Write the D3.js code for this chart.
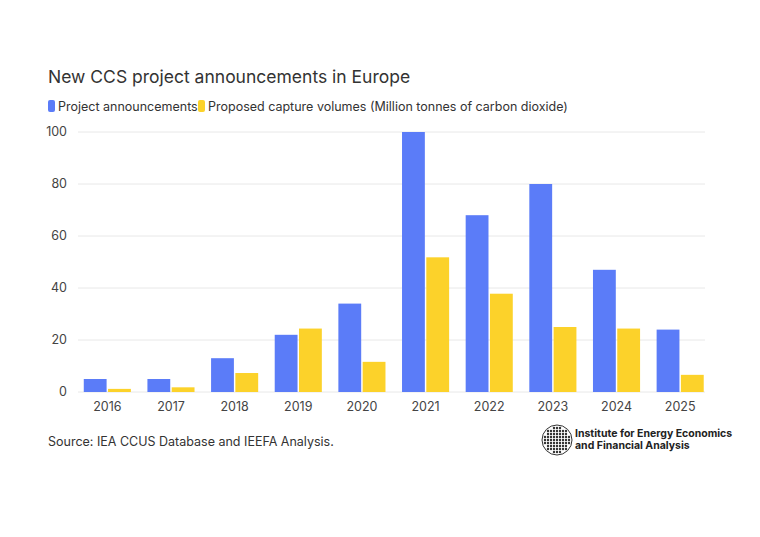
<!DOCTYPE html>
<html><head><meta charset="utf-8">
<script src="https://cdn.jsdelivr.net/npm/d3@7/dist/d3.min.js"></script>
<style>body{margin:0;background:#fff;font-family:Inter,"Noto Sans",sans-serif}</style>
</head><body>
<svg id="chart" width="760" height="537"></svg>
<script>
const years = ["2016","2017","2018","2019","2020","2021","2022","2023","2024","2025"];
const announcements = [5,5,13,22,34,100,68,80,47,24];
const volumes = [1.2,1.8,7.3,24.4,11.6,51.8,37.8,25,24.4,6.6];
const yTicks = [0,20,40,60,80,100];
const blue = "#5b7cf8", yellow = "#fcd22a";

const svg = d3.select("#chart");
const x = d3.scaleBand().domain(years).range([75.5, 712]).paddingInner(0.26).paddingOuter(0.13);
const sub = d3.scaleBand().domain([0,1]).range([0, x.bandwidth()]).paddingInner(0.06);
const y = d3.scaleLinear().domain([0,100]).range([392,132]);

svg.append("text").attr("x",48).attr("y",83).attr("font-size",17.5).attr("fill","#333")
  .text("New CCS project announcements in Europe");

// legend
const lg = svg.append("g").attr("font-size",12.5).attr("fill","#333");
lg.append("rect").attr("x",48).attr("y",100).attr("width",7).attr("height",12).attr("rx",2).attr("fill",blue);
lg.append("text").attr("x",58).attr("y",111).text("Project announcements");
lg.append("rect").attr("x",198).attr("y",100).attr("width",7).attr("height",12).attr("rx",2).attr("fill",yellow);
lg.append("text").attr("x",208).attr("y",111).text("Proposed capture volumes (Million tonnes of carbon dioxide)");

// grid + y labels
svg.append("g").selectAll("line").data(yTicks).join("line")
  .attr("x1",78).attr("x2",705).attr("y1",d=>y(d)).attr("y2",d=>y(d))
  .attr("stroke","#e8e8e8");
svg.append("g").selectAll("text").data(yTicks).join("text")
  .attr("x",67).attr("y",d=>y(d)+4).attr("text-anchor","end").attr("font-size",12.5).attr("fill","#444")
  .text(d=>d);

const g = svg.append("g");
g.selectAll(".a").data(years).join("rect")
  .attr("x",d=>x(d)+sub(0)).attr("width",sub.bandwidth())
  .attr("y",(d,i)=>y(announcements[i])).attr("height",(d,i)=>y(0)-y(announcements[i]))
  .attr("fill",blue);
g.selectAll(".v").data(years).join("rect")
  .attr("x",d=>x(d)+sub(1)).attr("width",sub.bandwidth())
  .attr("y",(d,i)=>y(volumes[i])).attr("height",(d,i)=>y(0)-y(volumes[i]))
  .attr("fill",yellow);

svg.append("g").selectAll("text").data(years).join("text")
  .attr("x",d=>x(d)+x.bandwidth()/2).attr("y",411).attr("text-anchor","middle")
  .attr("font-size",12.5).attr("fill","#444").text(d=>d);

svg.append("text").attr("x",48).attr("y",446).attr("font-size",12.5).attr("fill","#333")
  .text("Source: IEA CCUS Database and IEEFA Analysis.");

// logo
const logo = svg.append("g").attr("transform","translate(557,440)");
logo.append("circle").attr("r",15).attr("fill","#fff").attr("stroke","#333").attr("stroke-width",1);
const dots = d3.range(-12,13,3);
dots.forEach(dx=>dots.forEach(dy=>{
  if (dx*dx+dy*dy<170) logo.append("circle").attr("cx",dx).attr("cy",dy).attr("r",1.2).attr("fill","#333");
}));
svg.append("text").attr("x",575).attr("y",437).attr("font-size",10.5).attr("font-weight","bold").attr("fill","#222")
  .text("Institute for Energy Economics");
svg.append("text").attr("x",575).attr("y",449).attr("font-size",10.5).attr("font-weight","bold").attr("fill","#222")
  .text("and Financial Analysis");
</script>
</body></html>
